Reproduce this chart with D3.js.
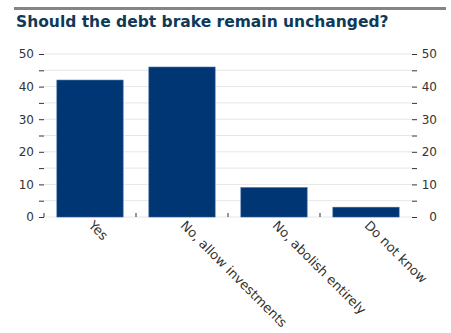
<!DOCTYPE html>
<html>
<head>
<meta charset="utf-8">
<script src="https://cdn.jsdelivr.net/npm/d3@7"></script>
<style>
  body { margin: 0; background: #fff; }
  svg { display: block; }
</style>
</head>
<body>
<div id="chart"></div>
<script>
const categories = ["Yes", "No, allow investments", "No, abolish entirely", "Do not know"];
const values = [42, 46, 9, 3];
const yTicks = [0, 10, 20, 30, 40, 50];
const yMinorTicks = [5, 15, 25, 35, 45];

const width = 451, height = 333;
const margin = { top: 54, right: 39, bottom: 116, left: 44 };
const innerW = width - margin.left - margin.right;
const innerH = height - margin.top - margin.bottom;
const font = "DejaVu Sans";

const svg = d3.select("#chart")
    .append("svg")
    .attr("width", width)
    .attr("height", height);

// top rule + title
svg.append("rect")
    .attr("x", 14).attr("y", 7)
    .attr("width", 432).attr("height", 3)
    .attr("fill", "#858585");

svg.append("text")
    .attr("x", 16)
    .attr("y", 27)
    .attr("fill", "#0f3a57")
    .attr("font-family", font)
    .attr("font-weight", "bold")
    .attr("font-size", "15.5px")
    .text("Should the debt brake remain unchanged?");

const g = svg.append("g")
    .attr("transform", `translate(${margin.left},${margin.top})`);

const x = d3.scaleBand()
    .domain(categories)
    .range([0, innerW])
    .paddingInner(0.28)
    .paddingOuter(0.14);

const y = d3.scaleLinear()
    .domain([0, 50])
    .range([innerH, 0]);

// gridlines every 5
g.append("g")
    .selectAll("line")
    .data(yTicks.concat(yMinorTicks))
    .join("line")
    .attr("x1", 0).attr("x2", innerW)
    .attr("y1", d => y(d)).attr("y2", d => y(d))
    .attr("stroke", "#e6e6e6")
    .attr("stroke-width", 1);

// Left axis
const left = g.append("g")
    .call(d3.axisLeft(y).tickValues(yTicks).tickSize(5).tickPadding(5));
left.append("g")
    .call(d3.axisLeft(y).tickValues(yMinorTicks).tickSize(5).tickFormat(""));

// Right axis
const right = g.append("g")
    .attr("transform", `translate(${innerW},0)`)
    .call(d3.axisRight(y).tickValues(yTicks).tickSize(5).tickPadding(20));
right.selectAll("text").attr("text-anchor", "end");
right.append("g")
    .call(d3.axisRight(y).tickValues(yMinorTicks).tickSize(5).tickFormat(""));

g.selectAll(".domain").remove();
g.selectAll(".tick line").attr("stroke", "#333");
g.selectAll(".tick text")
    .attr("fill", "#333")
    .attr("font-family", font)
    .attr("font-size", "12px");

// bars
g.selectAll("rect.bar")
    .data(values)
    .join("rect")
    .attr("class", "bar")
    .attr("x", (d, i) => x(categories[i]))
    .attr("y", d => y(d))
    .attr("width", x.bandwidth())
    .attr("height", d => y(0) - y(d))
    .attr("fill", "#003673")
    .attr("stroke", "#2f5f97")
    .attr("stroke-width", 0.6);

// x boundary ticks (pointing up into the plot)
const step = x.step();
const edge = x.paddingInner() * step / 2;
g.selectAll("line.xtick")
    .data(categories)
    .join("line")
    .attr("class", "xtick")
    .attr("x1", d => x(d) - edge)
    .attr("x2", d => x(d) - edge)
    .attr("y1", innerH)
    .attr("y2", innerH - 4)
    .attr("stroke", "#333");

// x labels, rotated 45
g.selectAll("text.xlabel")
    .data(categories)
    .join("text")
    .attr("class", "xlabel")
    .attr("transform", d => `translate(${x(d) + x.bandwidth() / 2 + 1},${innerH + 6}) rotate(45)`)
    .attr("dy", "0.35em")
    .attr("fill", "#333")
    .attr("font-family", font)
    .attr("font-size", "13px")
    .text(d => d);
</script>
</body>
</html>
